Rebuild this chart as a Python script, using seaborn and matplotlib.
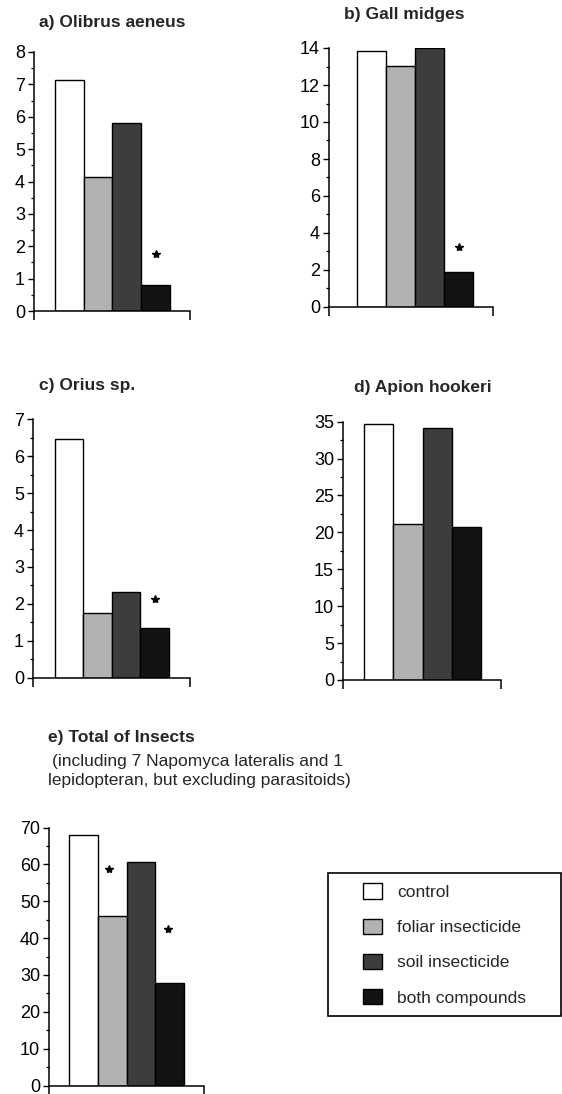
import numpy as np
import pandas as pd
import matplotlib
matplotlib.use("Agg")
import matplotlib.pyplot as plt
import seaborn as sns
from matplotlib.patches import Patch, Rectangle
from matplotlib.ticker import MultipleLocator, NullFormatter

# ---------------- data ----------------
treatments = ["control", "foliar insecticide", "soil insecticide", "both compounds"]
olibrus = [7.13, 4.15, 5.80, 0.79]
gall_midges = [13.85, 13.03, 14.0, 1.87]
orius = [6.47, 1.74, 2.33, 1.34]
apion = [34.7, 21.2, 34.1, 20.7]
total = [68.1, 46.0, 60.7, 27.8]

panel_titles = ["a) Olibrus aeneus", "b) Gall midges", "c) Orius sp.",
                "d) Apion hookeri", "e) Total of Insects"]
subtitle_lines = ["(including 7 Napomyca lateralis and 1",
                  "lepidopteran, but excluding parasitoids)"]
y_max = [8, 14, 7, 35, 70]
y_step = [1, 2, 1, 5, 10]
# significance stars: (bar position, height)
stars_a = [(3, 1.76)]
stars_b = [(3, 3.24)]
stars_c = [(3, 2.12)]
stars_d = []
stars_e = [(0.88, 58.7), (2.93, 42.5)]

colors = ["#ffffff", "#b2b2b2", "#3d3d3d", "#121212"]

# ---------------- style ----------------
sns.set_theme(style="ticks")
plt.rcParams["font.family"] = ["Liberation Sans", "DejaVu Sans"]

W, H = 562, 1094
fig = plt.figure(figsize=(W / 100, H / 100), dpi=100)
fig.patch.set_facecolor("white")


def rect(L, R, T, B):
    return [L / W, 1 - B / H, (R - L) / W, (B - T) / H]


# axes boxes in pixels (left, right, top, bottom) and bar gaps (in bar widths)
layout = [
    (34, 190, 52, 311, 0.73, 0.70),
    (329, 493, 48, 307, 0.97, 0.69),
    (33, 190, 419.3, 677.7, 0.77, 0.74),
    (343, 500.7, 421.7, 680, 0.72, 0.67),
    (49, 204, 827.5, 1085.5, 0.70, 0.70),
]
series = [olibrus, gall_midges, orius, apion, total]
stars = [stars_a, stars_b, stars_c, stars_d, stars_e]
palette = dict(zip(treatments, colors))

for i in range(5):
    L, R, T, B, gl, gr = layout[i]
    ax = fig.add_axes(rect(L, R, T, B))
    df = pd.DataFrame({"treatment": treatments, "value": series[i]})
    sns.barplot(data=df, x="treatment", y="value", hue="treatment",
                palette=palette, order=treatments, hue_order=treatments,
                width=1.0, edgecolor="black", linewidth=1.0,
                legend=False, ax=ax, errorbar=None)
    xl = (-0.5 - gl, 3.5 + gr)
    ax.set_xlim(*xl)
    ax.set_ylim(0, y_max[i])
    ax.set_xlabel("")
    ax.set_ylabel("")
    ax.set_facecolor("none")
    for s in ["top", "right"]:
        ax.spines[s].set_visible(False)
    for s in ["left", "bottom"]:
        ax.spines[s].set_linewidth(1.1)
        ax.spines[s].set_color("black")
    ax.set_xticks(list(xl))
    ax.set_xticklabels(["", ""])
    ax.tick_params(axis="x", direction="out", length=6.5, width=1.1, color="black")
    ax.yaxis.set_major_locator(MultipleLocator(y_step[i]))
    ax.yaxis.set_minor_locator(MultipleLocator(y_step[i] / 2))
    ax.yaxis.set_minor_formatter(NullFormatter())
    ax.tick_params(axis="y", which="major", direction="out", length=4,
                   width=1.0, color="black", labelsize=13, pad=2.5,
                   labelcolor="black")
    ax.tick_params(axis="y", which="minor", direction="out", length=2.2,
                   width=0.9, color="black")
    for (sx, sy) in stars[i]:
        ax.plot([sx], [sy], marker="*", markersize=6, color="black",
                linestyle="none", clip_on=False)


def ftext(x, y, s, **kw):
    fig.text(x / W, 1 - y / H, s, **kw)


ftext(112.5, 23, panel_titles[0], ha="center", va="center", fontsize=12.5,
      fontweight="bold")
ftext(404, 15, panel_titles[1], ha="center", va="center", fontsize=12.5,
      fontweight="bold")
ftext(87.5, 385, panel_titles[2], ha="center", va="center", fontsize=12.5,
      fontweight="bold")
ftext(423, 387.7, panel_titles[3], ha="center", va="center", fontsize=12.5,
      fontweight="bold")
ftext(48.3, 737.7, panel_titles[4], ha="left", va="center", fontsize=12.5,
      fontweight="bold")
ftext(51.7, 761.7, subtitle_lines[0], ha="left", va="center", fontsize=12.5)
ftext(48.3, 780, subtitle_lines[1], ha="left", va="center", fontsize=12.5)

# legend box
bx0, bx1, by0, by1 = 328, 561, 873, 1016
fig.patches.append(Rectangle((bx0 / W, 1 - by1 / H), (bx1 - bx0) / W,
                             (by1 - by0) / H, transform=fig.transFigure,
                             facecolor="none", edgecolor="black", linewidth=1.2))
handles = [Patch(facecolor=c, edgecolor="black", linewidth=1.0) for c in colors]
fig.legend(handles, treatments, loc="center",
           bbox_to_anchor=((bx0 + bx1) / 2 / W, 1 - (by0 + by1) / 2 / H),
           frameon=False, fontsize=12.5, handlelength=1.1, handleheight=0.98,
           handletextpad=0.86, labelspacing=1.07, borderpad=0.0)

fig.savefig("out.png", dpi=100, facecolor="white")
